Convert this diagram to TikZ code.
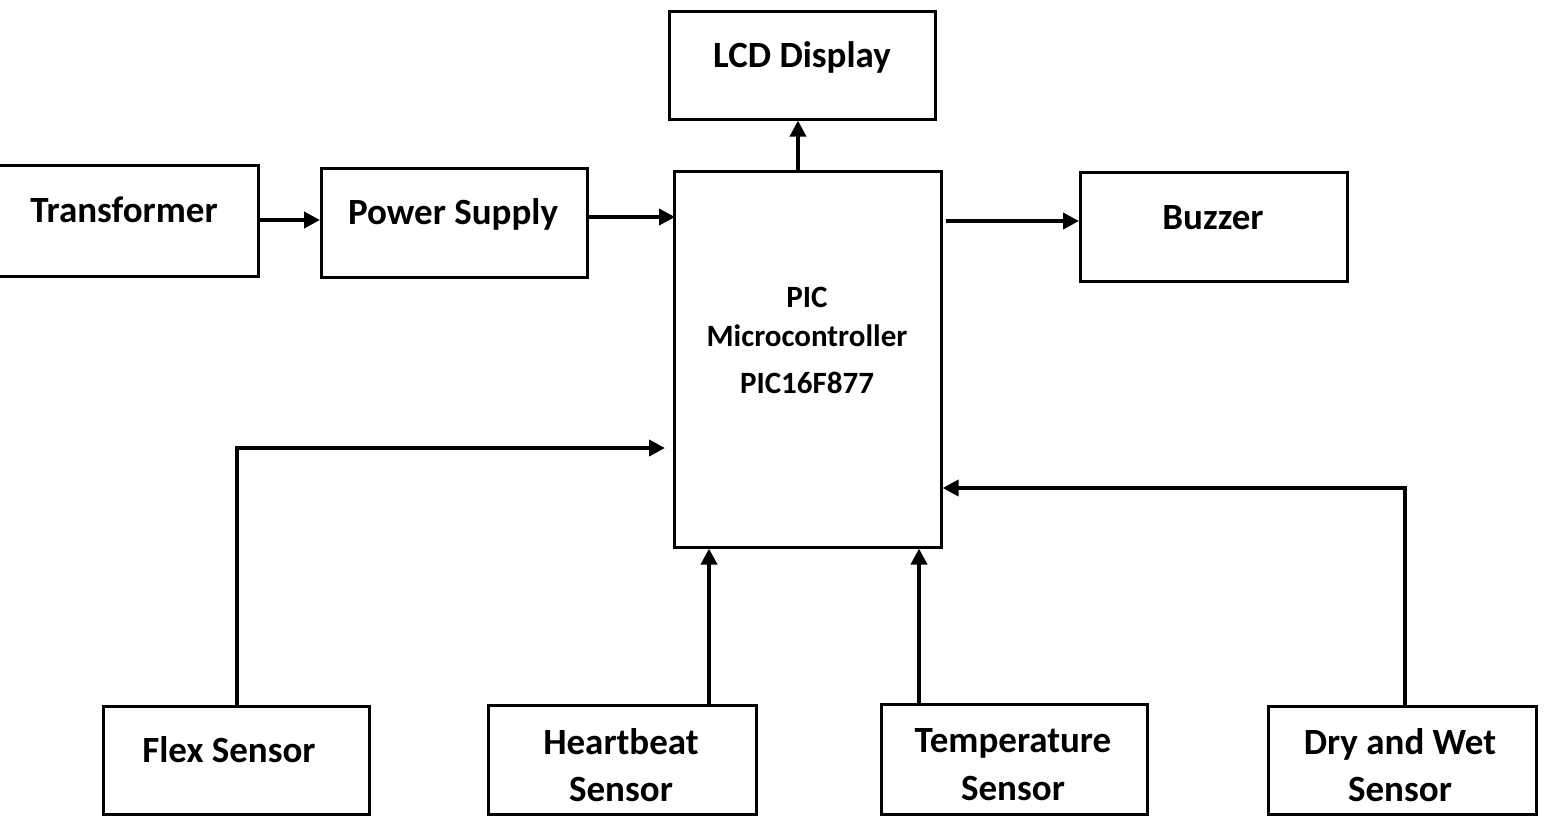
\documentclass[tikz,border=0pt]{standalone}
\usepackage{fontspec}
\setmainfont{Carlito}
\usetikzlibrary{arrows.meta}
\begin{document}
\begin{tikzpicture}[x=1pt,y=-1pt,
  blk/.style={draw=black,line width=2.6pt,rectangle,inner sep=0pt,anchor=north west,fill=white},
  lbl/.style={font=\fontsize{37}{47}\selectfont\bfseries,anchor=base,align=center,inner sep=0pt},
  smalllbl/.style={lbl,font=\fontsize{31}{40}\selectfont\bfseries},
  arr/.style={line width=3.8pt,-{Triangle[length=16pt,width=16pt]}}]
\useasboundingbox (0,0) rectangle (1544,815);
% blocks
\node[blk,minimum width=260pt,minimum height=111pt] (trans) at (-3,164) {};
\node[blk,minimum width=266pt,minimum height=109pt] (ps) at (320,167) {};
\node[blk,minimum width=266pt,minimum height=108pt] (lcd) at (668,10) {};
\node[blk,minimum width=267pt,minimum height=376pt] (pic) at (673,170) {};
\node[blk,minimum width=267pt,minimum height=109pt] (buz) at (1079,171) {};
\node[blk,minimum width=266pt,minimum height=108pt] (flex) at (102,705) {};
\node[blk,minimum width=268pt,minimum height=109pt] (hb) at (487,704) {};
\node[blk,minimum width=266pt,minimum height=110pt] (temp) at (880,703) {};
\node[blk,minimum width=268pt,minimum height=108pt] (dry) at (1267,705) {};
% labels
\node[lbl] (transT) at (124,222) {Transformer};
\node[lbl] (psT) at (453,224) {Power Supply};
\node[lbl] (lcdT) at (802,67) {LCD Display};
\node[lbl] (buzT) at (1213,229) {Buzzer};
\node[smalllbl] (picT1) at (807,307) {PIC};
\node[smalllbl] (picT2) at (807,346) {Microcontroller};
\node[smalllbl] (picT3) at (807,393) {PIC16F877};
\node[lbl] (flexT) at (229,762) {Flex Sensor};
\node[lbl] (hbT1) at (621,754) {Heartbeat};
\node[lbl] (hbT2) at (621,801) {Sensor};
\node[lbl] (tempT1) at (1013,752) {Temperature};
\node[lbl] (tempT2) at (1013,800) {Sensor};
\node[lbl] (dryT1) at (1400,754) {Dry and Wet};
\node[lbl] (dryT2) at (1400,801) {Sensor};
% connector helper coordinates
\coordinate (flexx) at (237,448);
\coordinate (flexend) at (665,448);
\coordinate (hbx) at (709,0);
\coordinate (tempx) at (919,0);
\coordinate (dryx) at (1405,488);
\coordinate (lcdx) at (798,0);
\coordinate (psy) at (0,217);
\coordinate (trany) at (0,220);
\coordinate (buzy) at (0,221);
% connectors
\draw[arr] (trans.east |- trany) -- (ps.west |- trany);
\draw[arr] (ps.east |- psy) -- ([xshift=2pt]pic.west |- psy);
\draw[arr] ([xshift=3pt]pic.east |- buzy) -- (buz.west |- buzy);
\draw[arr] (pic.north -| lcdx) -- (lcd.south -| lcdx);
\draw[arr] (flex.north -| flexx) -- ([yshift=-3pt]flexx) -- (flexx) -- (flexend);
\draw[arr] (hb.north -| hbx) -- (pic.south -| hbx);
\draw[arr] (temp.north -| tempx) -- (pic.south -| tempx);
\draw[arr] (dry.north -| dryx) -- (dryx) -- (pic.east |- dryx);
\end{tikzpicture}
\end{document}
